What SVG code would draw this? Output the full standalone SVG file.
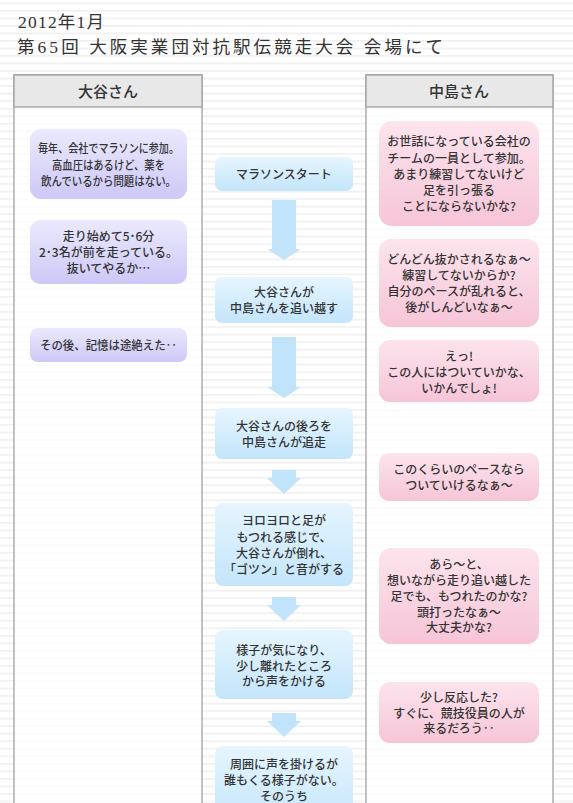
<svg xmlns="http://www.w3.org/2000/svg" width="573" height="803" viewBox="0 0 573 803">
<defs>
<pattern id="stripes" x="0" y="2.46" width="20" height="7.53" patternUnits="userSpaceOnUse">
<rect x="0" y="0" width="20" height="1.6" fill="#efefef"/>
</pattern>
<linearGradient id="gPurple" x1="0" y1="0" x2="0" y2="1">
<stop offset="0" stop-color="#ebe9fd"/>
<stop offset="1" stop-color="#cdc8f6"/>
</linearGradient>
<linearGradient id="gBlue" x1="0" y1="0" x2="0" y2="1">
<stop offset="0" stop-color="#e6f5fe"/>
<stop offset="1" stop-color="#c3e5fb"/>
</linearGradient>
<linearGradient id="gPink" x1="0" y1="0" x2="0" y2="1">
<stop offset="0" stop-color="#fce4ed"/>
<stop offset="1" stop-color="#f6c5d7"/>
</linearGradient>
</defs>
<style>
.title{font-family:"Liberation Serif","Noto Sans CJK JP",serif;fill:#333;}
.hdr{font-family:"Noto Sans CJK JP","Liberation Sans",sans-serif;font-size:15px;font-weight:500;fill:#333;text-anchor:middle;}
.t{font-family:"Noto Sans CJK JP","Liberation Sans",sans-serif;font-size:12px;font-weight:500;fill:#333;text-anchor:middle;}
.col{fill:#ffffff;fill-opacity:0.7;stroke:#999;stroke-width:1.2;}
.colhead{fill:#e8e8e8;stroke:#999;stroke-width:1.2;}
.dash{stroke:#bbbbbb;stroke-width:1;stroke-dasharray:4 3;}
.pu{fill:url(#gPurple);}
.bl{fill:url(#gBlue);}
.pk{fill:url(#gPink);}
.arrow{fill:#c2e4fb;}
</style>
<rect x="0" y="0" width="573" height="803" fill="#ffffff"/>
<rect x="0" y="0" width="573" height="803" fill="url(#stripes)"/>

<g id="title">
<text class="title" x="18" y="27.5" font-size="17.5" textLength="86" lengthAdjust="spacing">2012年1月</text>
<text class="title" x="17" y="52.5" font-size="17.5" textLength="426" lengthAdjust="spacing">第65回 大阪実業団対抗駅伝競走大会 会場にて</text>
</g>

<g id="col-otani">
<rect class="col" x="14" y="75" width="188" height="740"/>
<rect class="colhead" x="14" y="75" width="188" height="32"/>
<line class="dash" x1="14.6" y1="107" x2="201.4" y2="107"/>
<text class="hdr" x="108" y="97">大谷さん</text>
</g>
<g id="col-nakajima">
<rect class="col" x="366" y="75" width="187" height="740"/>
<rect class="colhead" x="366" y="75" width="187" height="32"/>
<line class="dash" x1="366.6" y1="107" x2="552.4" y2="107"/>
<text class="hdr" x="459" y="97">中島さん</text>
</g>

<g id="connectors">
<polygon class="arrow" points="272,200 296,200 296,249 301,249 284,260 267,249 272,249"/>
<polygon class="arrow" points="272,337 296,337 296,387 301,387 284,398 267,387 272,387"/>
<polygon class="arrow" points="272,470 296,470 296,478 301,478 284,494 267,478 272,478"/>
<polygon class="arrow" points="272,597 296,597 296,605 301,605 284,621 267,605 272,605"/>
<polygon class="arrow" points="272,713 296,713 296,721 301,721 284,737 267,721 272,721"/>
</g>

<g id="otani-1">
<rect class="pu" x="30" y="129" width="157" height="70" rx="11"/>
<text class="t" x="108.5" y="153" textLength="141" lengthAdjust="spacingAndGlyphs">毎年、会社でマラソンに参加。</text>
<text class="t" x="108.5" y="169.5" textLength="113" lengthAdjust="spacingAndGlyphs">高血圧はあるけど、薬を</text>
<text class="t" x="108.5" y="186" textLength="135" lengthAdjust="spacingAndGlyphs">飲んでいるから問題はない。</text>
</g>
<g id="otani-2">
<rect class="pu" x="30" y="220" width="157" height="64" rx="10"/>
<text class="t" x="108.5" y="241">走り始めて5･6分</text>
<text class="t" x="108.5" y="257">2･3名が前を走っている。</text>
<text class="t" x="108.5" y="272.5">抜いてやるか…</text>
</g>
<g id="otani-3">
<rect class="pu" x="30" y="328" width="157" height="34" rx="8"/>
<text class="t" x="108.5" y="349.5" textLength="137" lengthAdjust="spacingAndGlyphs">その後、記憶は途絶えた‥</text>
</g>

<g id="flow-1">
<rect class="bl" x="215" y="157" width="138" height="34" rx="7"/>
<text class="t" x="284" y="179">マラソンスタート</text>
</g>
<g id="flow-2">
<rect class="bl" x="215" y="277" width="138" height="46" rx="7"/>
<text class="t" x="284" y="297">大谷さんが</text>
<text class="t" x="284" y="312.5">中島さんを追い越す</text>
</g>
<g id="flow-3">
<rect class="bl" x="215" y="408" width="138" height="51" rx="7"/>
<text class="t" x="284" y="431">大谷さんの後ろを</text>
<text class="t" x="284" y="447">中島さんが追走</text>
</g>
<g id="flow-4">
<rect class="bl" x="215" y="503" width="138" height="83" rx="8"/>
<text class="t" x="284" y="525">ヨロヨロと足が</text>
<text class="t" x="284" y="541.5">もつれる感じで、</text>
<text class="t" x="284" y="558">大谷さんが倒れ、</text>
<text class="t" x="284" y="574">「ゴツン」と音がする</text>
</g>
<g id="flow-5">
<rect class="bl" x="215" y="630" width="138" height="69" rx="8"/>
<text class="t" x="284" y="654.5">様子が気になり、</text>
<text class="t" x="284" y="670.5">少し離れたところ</text>
<text class="t" x="284" y="686">から声をかける</text>
</g>
<g id="flow-6">
<rect class="bl" x="215" y="746" width="138" height="80" rx="8"/>
<text class="t" x="284" y="768.5">周囲に声を掛けるが</text>
<text class="t" x="284" y="785">誰もくる様子がない。</text>
<text class="t" x="284" y="801">そのうち</text>
</g>

<g id="nakajima-1">
<rect class="pk" x="379" y="121" width="160" height="105" rx="13"/>
<text class="t" x="459" y="146">お世話になっている会社の</text>
<text class="t" x="459" y="162.5">チームの一員として参加。</text>
<text class="t" x="459" y="179">あまり練習してないけど</text>
<text class="t" x="459" y="195">足を引っ張る</text>
<text class="t" x="459" y="211">ことにならないかな?</text>
</g>
<g id="nakajima-2">
<rect class="pk" x="379" y="239" width="160" height="88" rx="12"/>
<text class="t" x="459" y="263.5">どんどん抜かされるなぁ〜</text>
<text class="t" x="459" y="280">練習してないからか?</text>
<text class="t" x="459" y="296">自分のペースが乱れると、</text>
<text class="t" x="459" y="312">後がしんどいなぁ〜</text>
</g>
<g id="nakajima-3">
<rect class="pk" x="379" y="340" width="160" height="62" rx="11"/>
<text class="t" x="459" y="360.5">えっ!</text>
<text class="t" x="459" y="376.5">この人にはついていかな、</text>
<text class="t" x="459" y="392.5">いかんでしょ!</text>
</g>
<g id="nakajima-4">
<rect class="pk" x="379" y="453" width="160" height="48" rx="10"/>
<text class="t" x="459" y="473.5">このくらいのペースなら</text>
<text class="t" x="459" y="489.5">ついていけるなぁ〜</text>
</g>
<g id="nakajima-5">
<rect class="pk" x="379" y="548" width="160" height="96" rx="12"/>
<text class="t" x="459" y="568.5">あら〜と、</text>
<text class="t" x="459" y="584.5">想いながら走り追い越した</text>
<text class="t" x="459" y="600.5">足でも、もつれたのかな?</text>
<text class="t" x="459" y="616.5">頭打ったなぁ〜</text>
<text class="t" x="459" y="632">大丈夫かな?</text>
</g>
<g id="nakajima-6">
<rect class="pk" x="379" y="682" width="160" height="61" rx="11"/>
<text class="t" x="459" y="701.5">少し反応した?</text>
<text class="t" x="459" y="717.5">すぐに、競技役員の人が</text>
<text class="t" x="459" y="733">来るだろう‥</text>
</g>
</svg>
